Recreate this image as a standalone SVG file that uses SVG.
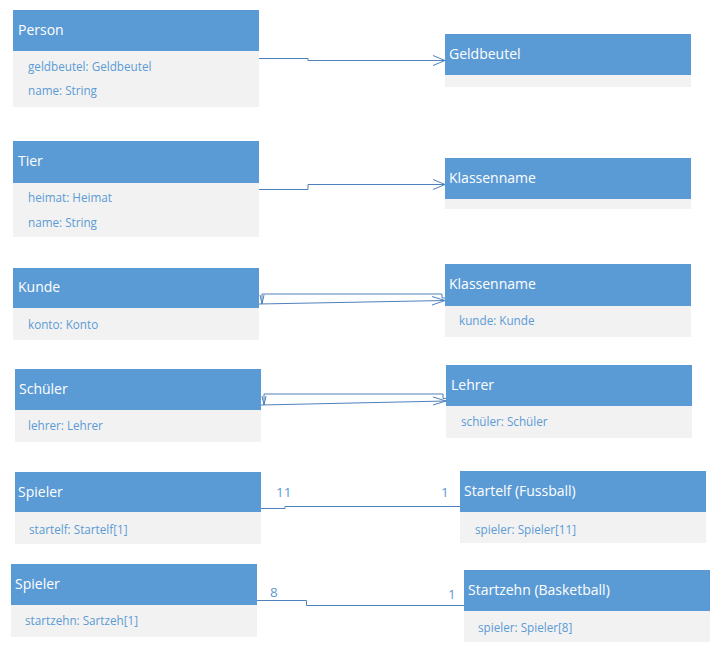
<svg xmlns="http://www.w3.org/2000/svg" width="723" height="654" viewBox="0 0 723 654">
<style>
.h{fill:#5B9BD5}
.b{fill:#F2F2F2}
.t{font-family:"Open Sans","Liberation Sans",sans-serif;font-size:14px;fill:#FFFFFF}
.a{font-family:"Open Sans","Liberation Sans",sans-serif;font-size:11.7px;fill:#5B9BD5}
.n{font-family:"Open Sans","Liberation Sans",sans-serif;font-size:13.5px;fill:#5B9BD5}
.c{fill:none;stroke:#4F81BD;stroke-width:1}
</style>
<rect width="723" height="654" fill="#FFFFFF"/>
<g id="person">
<rect class="b" x="13" y="51" width="246" height="56"/>
<rect class="h" x="13" y="10" width="246" height="41"/>
<text class="t" x="18" y="35">Person</text>
<text class="a" x="28" y="71">geldbeutel: Geldbeutel</text>
<text class="a" x="28" y="95">name: String</text>
</g>
<g id="geldbeutel">
<rect class="b" x="445" y="75" width="246" height="12"/>
<rect class="h" x="445" y="34" width="246" height="41"/>
<text class="t" x="449" y="59">Geldbeutel</text>
</g>
<g id="tier">
<rect class="b" x="13" y="183" width="246" height="54"/>
<rect class="h" x="13" y="141" width="246" height="42"/>
<text class="t" x="18" y="166">Tier</text>
<text class="a" x="28" y="202">heimat: Heimat</text>
<text class="a" x="28" y="227">name: String</text>
</g>
<g id="klassenname1">
<rect class="b" x="445" y="199" width="246" height="10"/>
<rect class="h" x="445" y="158" width="246" height="41"/>
<text class="t" x="449" y="183">Klassenname</text>
</g>
<g id="kunde">
<rect class="b" x="13" y="308" width="246" height="32"/>
<rect class="h" x="13" y="268" width="246" height="40"/>
<text class="t" x="18" y="292">Kunde</text>
<text class="a" x="28" y="329">konto: Konto</text>
</g>
<g id="klassenname2">
<rect class="b" x="445" y="306" width="246" height="31"/>
<rect class="h" x="445" y="264" width="246" height="42"/>
<text class="t" x="449" y="289">Klassenname</text>
<text class="a" x="459" y="325">kunde: Kunde</text>
</g>
<g id="schueler">
<rect class="b" x="15" y="410" width="246" height="32"/>
<rect class="h" x="15" y="369" width="246" height="41"/>
<text class="t" x="19" y="394">Schüler</text>
<text class="a" x="28" y="430">lehrer: Lehrer</text>
</g>
<g id="lehrer">
<rect class="b" x="446" y="406" width="246" height="32"/>
<rect class="h" x="446" y="365" width="246" height="41"/>
<text class="t" x="451" y="390">Lehrer</text>
<text class="a" x="461" y="426">schüler: Schüler</text>
</g>
<g id="spieler1">
<rect class="b" x="15" y="512" width="246" height="32"/>
<rect class="h" x="15" y="472" width="246" height="40"/>
<text class="t" x="18" y="497">Spieler</text>
<text class="a" x="29" y="534">startelf: Startelf[1]</text>
</g>
<g id="startelf">
<rect class="b" x="460" y="512" width="246" height="31"/>
<rect class="h" x="460" y="471" width="246" height="41"/>
<text class="t" x="464" y="496">Startelf (Fussball)</text>
<text class="a" x="475" y="534">spieler: Spieler[11]</text>
</g>
<g id="spieler2">
<rect class="b" x="11" y="605" width="246" height="32"/>
<rect class="h" x="11" y="564" width="246" height="41"/>
<text class="t" x="15" y="589">Spieler</text>
<text class="a" x="25" y="625">startzehn: Sartzeh[1]</text>
</g>
<g id="startzehn">
<rect class="b" x="464" y="611" width="246" height="31"/>
<rect class="h" x="464" y="570" width="246" height="41"/>
<text class="t" x="468" y="595">Startzehn (Basketball)</text>
<text class="a" x="478" y="632">spieler: Spieler[8]</text>
</g>
<g id="connectors">
<path class="c" d="M259 58.5 H308 V60.5 H445"/>
<path class="c" d="M433 55.5 L445 60.5 L433 65.5"/>
<path class="c" d="M259 189.5 H308 V184.5 H445"/>
<path class="c" d="M433 179.5 L445 184.5 L433 189.5"/>
<path class="c" d="M445 298 H442 V294 H262 V304"/>
<path class="c" d="M260 295 L262 304 L264 295"/>
<path class="c" d="M259 304 L445 300.5"/>
<path class="c" d="M432 296.5 L445 300.5 L432 305"/>
<path class="c" d="M446 398.5 H443 V394 H264 V405"/>
<path class="c" d="M262 396 L264 405 L266 396"/>
<path class="c" d="M261 405 L446 401"/>
<path class="c" d="M433 397 L446 401 L433 405"/>
<path class="c" d="M261 508.5 H285 V506.5 H460"/>
<path class="c" d="M257 600.5 H306.5 V605.5 H464"/>
<text class="n" x="276" y="497">11</text>
<text class="n" x="441" y="497">1</text>
<text class="n" x="270" y="597">8</text>
<text class="n" x="448" y="599">1</text>
</g>
</svg>
